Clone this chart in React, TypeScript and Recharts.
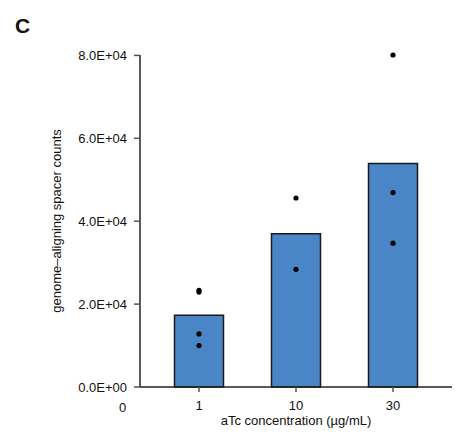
import React from 'react';
import { ComposedChart, Bar, Scatter, XAxis, YAxis, Label } from 'recharts';

// aTc concentrations (µg/mL) shown as categories
const concentrations = ['1', '10', '30'];
// Mean genome-aligning spacer counts per concentration
const meanCounts = [17300, 37000, 53900];
// Individual replicate counts per concentration
const replicates1 = [23300, 22900, 12800, 10000];
const replicates10 = [45600, 28400];
const replicates30 = [80100, 46900, 34700];
const yTicks = [0, 20000, 40000, 60000, 80000];

const replicateGroups = [replicates1, replicates10, replicates30];

const barData = concentrations.map((label, i) => ({
  pos: i + 1,
  label,
  mean: meanCounts[i],
}));

const pointData = replicateGroups.flatMap((group, i) =>
  group.map((count) => ({ pos: i + 1, count })),
);

const FONT = '"Liberation Sans", Arial, Helvetica, sans-serif';

const formatSci = (v: number) => {
  if (v === 0) return '0.0E+00';
  const exp = Math.floor(Math.log10(Math.abs(v)));
  const mant = v / Math.pow(10, exp);
  const sign = exp < 0 ? '-' : '+';
  const e = String(Math.abs(exp)).padStart(2, '0');
  return `${mant.toFixed(1)}E${sign}${e}`;
};

const Dot = (props: any) => {
  const { cx, cy } = props;
  if (cx == null || cy == null) return null;
  return <circle cx={cx} cy={cy} r={2.6} fill="#000" />;
};

export default function App() {
  return (
    <div style={{ position: 'absolute', left: 0, top: 0, width: 463, height: 435, background: '#fff' }}>
      <ComposedChart
        width={463}
        height={435}
        data={barData}
        margin={{ top: 55, right: 11, bottom: 18, left: 0 }}
        style={{ fontFamily: FONT }}
      >
        <XAxis
          type="number"
          dataKey="pos"
          domain={[1, 3]}
          ticks={[1, 2, 3]}
          tickFormatter={(v: number) => concentrations[v - 1]}
          padding={{ left: 59, right: 59 }}
          height={30}
          axisLine={{ stroke: '#222', strokeWidth: 1.5 }}
          tickLine={{ stroke: '#555', strokeWidth: 1.5 }}
          tickSize={5}
          tickMargin={9}
          tick={{ fill: '#111', fontSize: 13, fontFamily: FONT }}
        >
          <Label
            value="aTc concentration (µg/mL)"
            position="insideBottom"
            offset={-8}
            style={{ fill: '#111', fontSize: 13, fontFamily: FONT }}
          />
        </XAxis>
        <YAxis
          type="number"
          domain={[0, 80000]}
          ticks={yTicks}
          tickFormatter={formatSci}
          width={140}
          axisLine={{ stroke: '#222', strokeWidth: 1.5 }}
          tickLine={{ stroke: '#555', strokeWidth: 1.5 }}
          tickSize={6}
          tickMargin={7}
          tick={{ fill: '#111', fontSize: 13, fontFamily: FONT }}
        >
          <Label
            value="genome–aligning spacer counts"
            angle={-90}
            position="insideLeft"
            offset={56}
            style={{ fill: '#111', fontSize: 13, fontFamily: FONT, textAnchor: 'middle' }}
          />
        </YAxis>
        <Bar
          dataKey="mean"
          barSize={49}
          fill="#4A86C7"
          stroke="#1a1a1a"
          strokeWidth={1.5}
          isAnimationActive={false}
        />
        <Scatter
          data={pointData}
          dataKey="count"
          shape={<Dot />}
          isAnimationActive={false}
        />
      </ComposedChart>
      <div
        style={{
          position: 'absolute',
          left: 15,
          top: 15,
          fontFamily: FONT,
          fontWeight: 'bold',
          fontSize: 21,
          lineHeight: '21px',
          color: '#111',
        }}
      >
        C
      </div>
      <div
        style={{
          position: 'absolute',
          left: 119,
          top: 400,
          fontFamily: FONT,
          fontSize: 13,
          lineHeight: '15px',
          color: '#111',
        }}
      >
        0
      </div>
    </div>
  );
}
